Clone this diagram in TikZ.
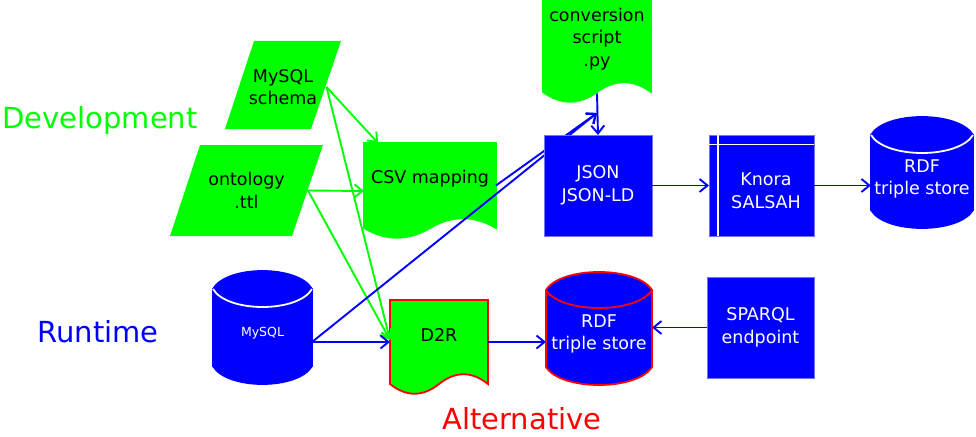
\documentclass[tikz,border=0pt]{standalone}
\usepackage{fontspec}
\setmainfont{DejaVu Sans}
\usetikzlibrary{arrows.meta}
\tikzset{%
  box/.style   = {rectangle, outer sep=0pt, align=center, text=white,%
                  fill=blue, draw=blue!55!white, line width=0.8pt,%
                  font=\fontsize{17.5}{22.5}\selectfont},%
  txt/.style   = {rectangle, outer sep=0pt, align=center,%
                  font=\fontsize{17.5}{22.5}\selectfont},%
  phase/.style = {font=\fontsize{29}{35}\selectfont},%
  flow/.style  = {->, line width=1.9pt}%
}
% wavy document: x1, x2, top, base, fill, border
\newcommand{\docshape}[6]{%
  \filldraw[fill=#5, draw=#6, line width=1.8pt] (#1,#3) -- (#2,#3) -- (#2,#4)
    .. controls ({#2-(#2-#1)/6},{#4-13}) and ({#2-(#2-#1)/3},{#4-13}) .. ({(#1+#2)/2},#4)
    .. controls ({#1+(#2-#1)/3},{#4+13}) and ({#1+(#2-#1)/6},{#4+13}) .. (#1,#4) -- cycle;}
% database drum: x1, x2, top corners, bottom, border, inner line
\newcommand{\drum}[6]{%
  \filldraw[fill=blue, draw=#5, line width=1.8pt] (#1,#3)
    .. controls ({#1+(#2-#1)/7},{#3-24}) and ({#2-(#2-#1)/7},{#3-24}) .. (#2,#3) -- (#2,#4)
    .. controls ({#2-(#2-#1)/7},{#4+24}) and ({#1+(#2-#1)/7},{#4+24}) .. (#1,#4) -- cycle;
  \draw[#6, line width=1.8pt] (#1,#3)
    .. controls ({#1+(#2-#1)/7},{#3+24}) and ({#2-(#2-#1)/7},{#3+24}) .. (#2,#3);}

\begin{document}
\begin{tikzpicture}[x=1pt, y=-1pt, >={Straight Barb[length=8pt,width=13pt]}]
  \useasboundingbox (0,0) rectangle (976,436);
  % shapes
  \fill[green] (254,41) -- (341,41) -- (311,129) -- (225,129) -- cycle;
  \fill[green] (200,145) -- (323,145) -- (292,236) -- (170,236) -- cycle;
  \docshape{364}{496}{143}{228}{green}{green}
  \docshape{543}{651}{-3}{92}{green}{green}
  \docshape{390}{488}{300}{384}{green}{red}
  \drum{213}{312}{289}{366}{blue}{white}
  \drum{871}{973}{135}{210}{blue}{white}
  \drum{546}{652}{290}{367}{red}{red}

  % phases
  \node[phase, text=green] (dev) at (100,120) {Development};
  \node[phase, text=blue]  (run) at (98,332)  {Runtime};
  \node[phase, text=red]   (alt) at (522,419) {Alternative};

  % nodes on the shapes
  \node[txt, minimum width=87, minimum height=88]  (schema) at (283,87)    {MySQL\\schema};
  \node[txt, minimum width=123, minimum height=91] (onto)   at (246.5,190.5) {ontology\\.ttl};
  \node[txt, minimum width=132, minimum height=71] (csv)    at (430,178.5) {CSV mapping};
  \node[txt, minimum width=108, minimum height=81] (script) at (597,39)    {conversion\\script\\.py};
  \node[txt, minimum width=98, minimum height=70]  (d2r)    at (439,335)   {D2R};
  \node[txt, text=white, minimum width=99, minimum height=68,
        font=\fontsize{12.5}{15}\selectfont]         (mysql)  at (262.5,333) {MySQL};
  \node[txt, text=white, minimum width=102, minimum height=66] (rdf)    at (922,179) {RDF\\triple store};
  \node[txt, text=white, minimum width=106, minimum height=68] (rdfalt) at (599,334) {RDF\\triple store};

  % inputs
  \draw[flow, green] (schema.east) -- ([xshift=14pt]csv.north west);
  \draw[flow, green] (schema.east) -- ([yshift=-5pt]d2r.west);
  \draw[flow, green] (onto.east) -- ([yshift=-12.5pt]csv.west);
  \draw[flow, green] (onto.east) -- ([yshift=-5pt]d2r.west);
  \coordinate (meet) at (597,113);
  \draw[flow, blue] ([yshift=-7pt]csv.east) -- (meet);
  \draw[flow, blue] ([yshift=-9pt]mysql.east) -- (meet);
  \draw[flow, blue] ([yshift=-9pt]mysql.east) -- ([yshift=-7pt]d2r.west);

  \node[box, minimum width=108, minimum height=101] (json)   at (598,185.5)   {JSON\\JSON-LD};
  \node[box, minimum width=105, minimum height=101] (knora)  at (761.5,185.5) {};
  \draw[white, line width=1.5pt] ([yshift=-9.5pt]knora.north west) -- ([yshift=-9.5pt]knora.north east)
    ([xshift=9pt]knora.north west) -- ([xshift=9pt]knora.south west);
  \node[txt, text=white, minimum width=96, minimum height=91] (salsah) at (766,190.5) {Knora\\SALSAH};
  \node[box, minimum width=107, minimum height=101] (sparql) at (760.5,327.5) {SPARQL\\endpoint};

  \draw[flow, blue] ([yshift=-14pt]script.south) -- (json.north);
  \draw[flow, blue] (json.east) -- (knora.west);
  \draw[flow, blue] (knora.east) -- (knora.east -| rdf.west);
  \draw[flow, blue] ([yshift=-7pt]d2r.east) -- ([yshift=-8pt]rdfalt.west);
  \draw[flow, blue] (sparql.west) -- (sparql.west -| rdfalt.east);
\end{tikzpicture}
\end{document}
